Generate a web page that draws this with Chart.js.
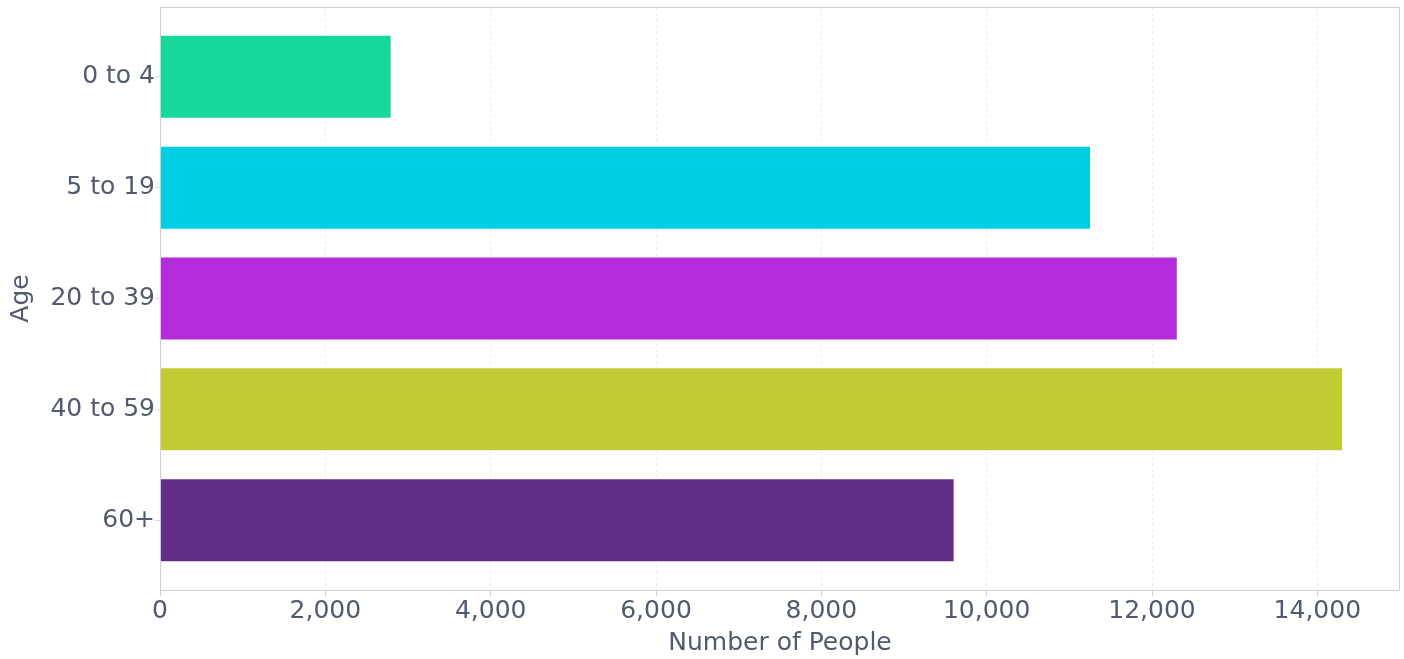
<!DOCTYPE html>
<html>
<head>
<meta charset="utf-8">
<script src="https://cdn.jsdelivr.net/npm/chart.js@4"></script>
<style>
  html, body { margin: 0; padding: 0; background: #ffffff; }
  #wrap { width: 1404px; height: 659px; }
</style>
</head>
<body>
<div id="wrap"><canvas id="c" width="1404" height="659"></canvas></div>
<script>
const categories = ["0 to 4", "5 to 19", "20 to 39", "40 to 59", "60+"];
const values = [2790, 11250, 12300, 14300, 9600];
const barColors = ["#17d89b", "#00cfe3", "#b42cda", "#c1cc33", "#612c85"];
const xTickValues = [0, 2000, 4000, 6000, 8000, 10000, 12000, 14000];
const xTitle = "Number of People";
const yTitle = "Age";

const textColor = "#525a6e";
const fontFamily = "'DejaVu Sans', sans-serif";

const frame = {
  id: 'frame',
  afterDraw(chart) {
    const a = chart.chartArea, ctx = chart.ctx;
    ctx.save();
    ctx.strokeStyle = '#cfcfcf';
    ctx.lineWidth = 1;
    ctx.strokeRect(Math.round(a.left) + 0.5, Math.round(a.top) + 0.5,
      Math.round(a.right - a.left) - 1, Math.round(a.bottom - a.top));
    ctx.restore();
  }
};

new Chart(document.getElementById('c'), {
  type: 'bar',
  data: {
    datasets: [{
      data: values.map((v, i) => ({ x: v, y: i })),
      backgroundColor: barColors,
      borderWidth: 0,
      barPercentage: 0.74,
      categoryPercentage: 1.0
    }]
  },
  options: {
    indexAxis: 'y',
    responsive: false,
    animation: false,
    devicePixelRatio: 1,
    layout: { padding: { top: 7, right: 4, left: 0, bottom: 0 } },
    plugins: { legend: { display: false }, tooltip: { enabled: false } },
    scales: {
      x: {
        type: 'linear',
        min: 0, max: 15000,
        afterBuildTicks(scale) { scale.ticks = xTickValues.map(v => ({ value: v })); },
        afterFit(scale) { scale.height = 69; },
        grid: { color: '#ececec', tickColor: '#cfcfcf', tickLength: 6, drawOnChartArea: true },
        border: { display: false, dash: [3, 3] },
        ticks: {
          color: textColor, font: { family: fontFamily, size: 25 }, padding: 0,
          maxRotation: 0,
          callback: v => Number(v).toLocaleString('en-US')
        },
        title: { display: true, text: xTitle, color: textColor,
          font: { family: fontFamily, size: 25 }, padding: { top: 0, bottom: 1 } }
      },
      y: {
        type: 'linear',
        reverse: true,
        offset: false,
        min: -0.63, max: 4.63,
        afterBuildTicks(scale) { scale.ticks = categories.map((c, i) => ({ value: i })); },
        afterFit(scale) { scale.width = 160; scale.paddingTop = 0; scale.paddingBottom = 0; },
        grid: { display: true, offset: false, drawOnChartArea: false, tickColor: '#dcdcdc', tickLength: 5 },
        border: { display: false },
        ticks: { color: textColor, font: { family: fontFamily, size: 25 }, padding: 0,
          callback: v => categories[v] },
        title: { display: true, text: yTitle, color: textColor,
          font: { family: fontFamily, size: 25 }, padding: { top: 6, bottom: 0 } }
      }
    }
  },
  plugins: [frame]
});
</script>
</body>
</html>
